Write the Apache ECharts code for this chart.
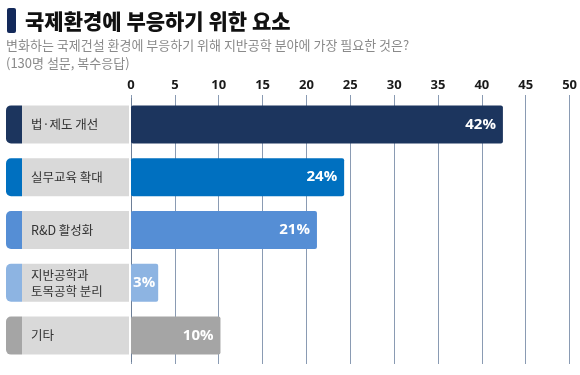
<!DOCTYPE html>
<html>
<head>
<meta charset="utf-8">
<script src="https://cdn.jsdelivr.net/npm/echarts@6/dist/echarts.min.js"></script>
<style>
  html, body { margin: 0; padding: 0; background: #fff; }
  #chart { width: 580px; height: 375px; }
</style>
</head>
<body>
<div id="chart"></div>
<script>
const categories = ['법·제도 개선', '실무교육 확대', 'R&D 활성화', '지반공학과\n토목공학 분리', '기타'];
const values = [42.4, 24.3, 21.2, 3.1, 10.2];
const barColors = ['#1c355e', '#0070c0', '#558ed5', '#8db4e2', '#a5a5a5'];
const xTicks = [0, 5, 10, 15, 20, 25, 30, 35, 40, 45, 50];

const FONT = '"Noto Sans CJK KR", "Noto Sans", sans-serif';

const chart = echarts.init(document.getElementById('chart'));

// label boxes on the left: coloured strip + grey box
const stripData = categories.map((c, i) => ({
  value: 16,
  itemStyle: { color: barColors[i], borderRadius: [5, 0, 0, 5] }
}));
const boxData = categories.map(() => 107);

chart.setOption({
  animation: false,
  title: [
    {
      text: '국제환경에 부응하기 위한 요소',
      left: 20, top: 6,
      textStyle: { fontFamily: FONT, fontSize: 21, fontWeight: 900, color: '#111' }
    },
    {
      text: '변화하는 국제건설 환경에 부응하기 위해 지반공학 분야에 가장 필요한 것은?\n(130명 설문, 복수응답)',
      left: 6, top: 36, padding: 0,
      textStyle: { fontFamily: FONT, fontSize: 13, fontWeight: 'normal', color: '#8a8a8a', lineHeight: 18 }
    }
  ],
  graphic: [
    { type: 'rect', shape: { x: 7, y: 8, width: 9, height: 25, r: 2 }, style: { fill: '#13295a' } }
  ],
  grid: [
    { left: 131, right: 9, top: 98, bottom: 13 },
    { left: 6, width: 123, top: 98, bottom: 13 }
  ],
  xAxis: [
    {
      gridIndex: 0, type: 'value', position: 'top',
      min: 0, max: 50, interval: 5,
      axisLine: { show: false },
      axisTick: { show: true, length: 3, lineStyle: { color: '#8a9bb3' } },
      axisLabel: {
        margin: 6, color: '#1a1a1a', fontSize: 13, fontWeight: 'bold', fontFamily: '"Open Sans", sans-serif',
        formatter: v => (xTicks.includes(v) ? String(v) : '')
      },
      splitLine: { show: true, lineStyle: { color: '#8a9bb3', width: 1 } }
    },
    {
      gridIndex: 0, type: 'value', position: 'bottom',
      min: 0, max: 50, interval: 5,
      axisLine: { show: false },
      axisTick: { show: true, length: 2, lineStyle: { color: '#8a9bb3' } },
      axisLabel: { show: false },
      splitLine: { show: false }
    },
    {
      gridIndex: 1, type: 'value', min: 0, max: 123, show: false
    }
  ],
  yAxis: [
    {
      gridIndex: 0, type: 'category', data: categories, inverse: true,
      axisLine: { show: true, lineStyle: { color: '#6d7f98' } },
      axisTick: { show: false },
      axisLabel: { show: false }
    },
    {
      gridIndex: 1, type: 'category', data: categories, inverse: true, show: false
    }
  ],
  series: [
    {
      type: 'bar', xAxisIndex: 0, yAxisIndex: 0,
      barWidth: 38,
      data: values.map((v, i) => ({
        value: v,
        itemStyle: { color: barColors[i], borderRadius: 2 },
        label: { distance: v < 5 ? 3 : 7 }
      })),
      label: {
        show: true, position: 'insideRight',
        formatter: p => Math.round(p.value) + '%',
        color: '#fff', fontSize: 15, fontWeight: 'bold', fontFamily: '"Open Sans", sans-serif'
      }
    },
    {
      type: 'bar', xAxisIndex: 2, yAxisIndex: 1, stack: 'box',
      barWidth: 38, silent: true,
      data: stripData
    },
    {
      type: 'bar', xAxisIndex: 2, yAxisIndex: 1, stack: 'box',
      barWidth: 38, silent: true,
      itemStyle: { color: '#d9d9d9' },
      data: boxData,
      label: {
        show: true, position: 'insideLeft', distance: 9,
        formatter: p => categories[p.dataIndex],
        color: '#333', fontSize: 12.5, fontFamily: FONT, lineHeight: 16
      }
    }
  ]
});
</script>
</body>
</html>
